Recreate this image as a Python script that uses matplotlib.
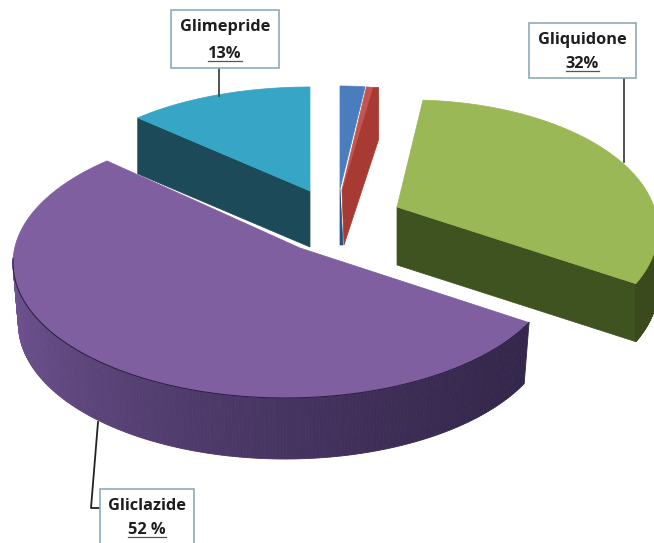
import numpy as np
import matplotlib
matplotlib.use("Agg")
import matplotlib.pyplot as plt
from matplotlib.colors import to_rgb

#data
names = ["Other 1", "Other 2", "Gliquidone", "Gliclazide", "Glimepride"]
values = [2, 1, 32, 52, 13]
label_names = ["Gliquidone", "Gliclazide", "Glimepride"]
label_pcts = ["32%", "52 %", "13%"]

#look of each slice (the pie is exploded and in perspective, so each has its own ellipse)
apex = [(340, 189), (342, 190), (397, 207), (300, 248), (310, 191)]
center = [(340, 190), (340, 190), (410, 230), (285, 263), (310, 197)]
radii = [(200, 104), (200, 104), (248, 130), (272, 135), (248, 110)]
start = [0, 7.6, 3, 116.2, 316]
stretch = [1, 0.5, 0.967, 1.084, 0.94]
depth = [56, 54, 58, 61, 56]
shrink = [1, 1, 1, 0.98, 1]
top_col = ["#4a7dbd", "#c4544f", "#9ab855", "#7f5f9f", "#37a5c5"]
side_col = ["#2c4f7c", "#a83a34", "#3f5320", "#5a4278", "#1c4a58"]


def arc(i, t0=None, t1=None):
    if t0 is None:
        t0 = start[i]
    if t1 is None:
        t1 = start[i] + values[i] * 3.6 * stretch[i]
    t = np.radians(np.linspace(t0, t1, 200))
    x = center[i][0] + radii[i][0] * np.sin(t)
    y = center[i][1] - radii[i][1] * np.cos(t)
    return x, y


def top_face(i, zorder):
    x, y = arc(i)
    ax.fill(np.r_[apex[i][0], x], np.r_[apex[i][1], y], color=top_col[i], lw=0.5, zorder=zorder)


def cut_face(i, end, zorder):
    #flat wall from the centre of the pie out to one end of the arc
    x, y = arc(i)
    k = -1 if end else 0
    ax.fill([apex[i][0], x[k], x[k], apex[i][0]],
            [apex[i][1], y[k], y[k] + depth[i], apex[i][1] + depth[i]],
            color=side_col[i], lw=0.5, zorder=zorder)


def round_wall(i, t0, t1, col_left, col_right, zorder):
    #curved wall, small steps so the colour can change along it
    x, y = arc(i, t0, t1)
    xb = center[i][0] + (x - center[i][0]) * shrink[i]
    left = np.array(to_rgb(col_left))
    right = np.array(to_rgb(col_right))
    for k in range(len(x) - 1):
        f = ((x[k] - x.min()) / (x.max() - x.min())) ** 0.6
        c = left + (right - left) * f
        ax.fill([x[k], x[k + 1], xb[k + 1], xb[k]],
                [y[k], y[k + 1], y[k + 1] + depth[i], y[k] + depth[i]],
                color=c, lw=0.6, zorder=zorder)


def label(x0, y0, x1, y1, name, pct):
    ax.fill([x0, x1, x1, x0], [y0, y0, y1, y1], facecolor="white", edgecolor="#8ea9ba", lw=1.2, zorder=10)
    xc = (x0 + x1) / 2
    ax.text(xc, y0 + (y1 - y0) * 0.3, name, ha="center", va="center", fontsize=11.8,
            fontweight="bold", family="Open Sans", color="#1e1e1e", zorder=11)
    t = ax.text(xc, y0 + (y1 - y0) * 0.75, pct, ha="center", va="center", fontsize=11.8,
                fontweight="bold", family="Open Sans", color="#1e1e1e", zorder=11)
    #underline
    box = t.get_window_extent(fig.canvas.get_renderer())
    a = ax.transData.inverted().transform([(box.x0, box.y0), (box.x1, box.y0)])
    ax.plot([a[0][0], a[1][0]], [a[0][1] - 1, a[1][1] - 1], color="#555555", lw=0.9, zorder=11)


fig = plt.figure(figsize=(6.54, 5.43), dpi=100)
ax = fig.add_axes([0, 0, 1, 1])
ax.set_xlim(0, 654)
ax.set_ylim(543, 0)
ax.axis("off")

#small slices at the back, the red one shows its dark wall on the right
x, y = arc(1)
ax.fill([apex[1][0], x[-1], x[-1] + 6, x[-1] + 6, apex[1][0] + 2],
        [apex[1][1], y[-1], y[-1], y[-1] + 52, apex[1][1] + 55],
        color=side_col[1], lw=0.5, zorder=1)
top_face(1, 2)
ax.fill([apex[0][0], apex[0][0] + 3, apex[0][0]],
        [apex[0][1], apex[0][1] + depth[0], apex[0][1] + depth[0]],
        color=side_col[0], lw=0.5, zorder=1)
top_face(0, 2)

#Glimepride
cut_face(4, False, 3)
top_face(4, 4)

#Gliquidone
cut_face(2, True, 3)
round_wall(2, 90, start[2] + values[2] * 3.6 * stretch[2], "#3a4a1c", "#3a4a1c", 3)
top_face(2, 4)

#Gliclazide
round_wall(3, start[3], 272, "#6f5391", "#33264a", 5)
top_face(3, 6)
x, y = arc(3, start[3], 272)
ax.plot(x, y, color="#2e2145", lw=0.8, zorder=7)

#leader lines
ax.plot([624, 624], [78, 162], color="#444444", lw=1.3, zorder=9)
ax.plot([219, 219], [68, 96], color="#444444", lw=1.3, zorder=9)
ax.plot([98, 91, 100], [422, 508, 508], color="#222222", lw=1.3, zorder=9)

label(529, 23, 636, 78, label_names[0], label_pcts[0])
label(100, 489, 194, 544, label_names[1], label_pcts[1])
label(171, 10, 279, 68, label_names[2], label_pcts[2])

fig.savefig("out.png", dpi=100)
